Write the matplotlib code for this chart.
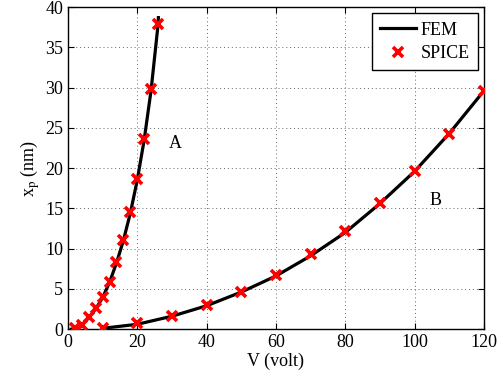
import numpy as np
import matplotlib.pyplot as plt

plt.rcParams['font.family'] = ['Liberation Serif', 'DejaVu Serif']
plt.rcParams['mathtext.fontset'] = 'stix'

# curve A
vA = [2, 4, 6, 8, 10, 12, 14, 16, 18, 20, 22, 24, 26]
xA_spice = [0.1, 0.5, 1.5, 2.6, 4.0, 5.9, 8.3, 11.1, 14.5, 18.6, 23.6, 29.8, 37.9]
vA_fem = [1, 2, 4, 6, 8, 10, 12, 14, 16, 18, 20, 22, 24, 26, 26.1]
xA_fem = [0.0, 0.1, 0.5, 1.4, 2.5, 3.9, 5.8, 8.2, 11.0, 14.4, 18.5, 23.5, 29.7, 37.8, 38.7]

# curve B
vB = [10, 20, 30, 40, 50, 60, 70, 80, 90, 100, 110, 120]
xB_spice = [0.1, 0.7, 1.6, 3.0, 4.6, 6.7, 9.3, 12.2, 15.7, 19.7, 24.3, 29.6]
xB_fem = [0.1, 0.6, 1.6, 2.9, 4.6, 6.6, 9.1, 12.0, 15.6, 19.6, 24.3, 29.6]

fig = plt.figure(figsize=(5.03, 3.77), dpi=100)
ax = fig.add_axes([0.135, 0.127, 0.827, 0.854])

ax.plot(vA_fem, xA_fem, color='black', lw=2.3, label='FEM', zorder=2)
ax.plot(vB, xB_fem, color='black', lw=2.3, zorder=2)
ax.plot(vA, xA_spice, 'x', color='red', ms=7.5, mew=2.6, label='SPICE', zorder=3)
ax.plot(vB, xB_spice, 'x', color='red', ms=7.5, mew=2.6, zorder=3)

ax.text(31, 23, 'A', fontsize=13, ha='center', va='center')
ax.text(106, 16, 'B', fontsize=13, ha='center', va='center')

ax.set_xlim(0, 120)
ax.set_ylim(0, 40)
ax.set_xticks(np.arange(0, 121, 20))
ax.set_yticks(np.arange(0, 41, 5))
ax.grid(True, linestyle=(0, (1, 3)), color='#666666', lw=0.7)
ax.tick_params(direction='in', labelsize=13, length=4, top=True, right=True)
for s in ax.spines.values():
    s.set_linewidth(1.0)

ax.set_xlabel('V (volt)', fontsize=13, labelpad=1)
ax.set_ylabel(r'x$_{\rm p}$ (nm)', fontsize=13, labelpad=2)

leg = ax.legend(loc='upper right', fontsize=13, fancybox=False, framealpha=1,
                edgecolor='black', handlelength=2.0, handletextpad=0.25,
                borderpad=0.45, labelspacing=0.35, borderaxespad=0.35)
leg.get_frame().set_linewidth(1.0)

fig.savefig('out.png', dpi=100)
